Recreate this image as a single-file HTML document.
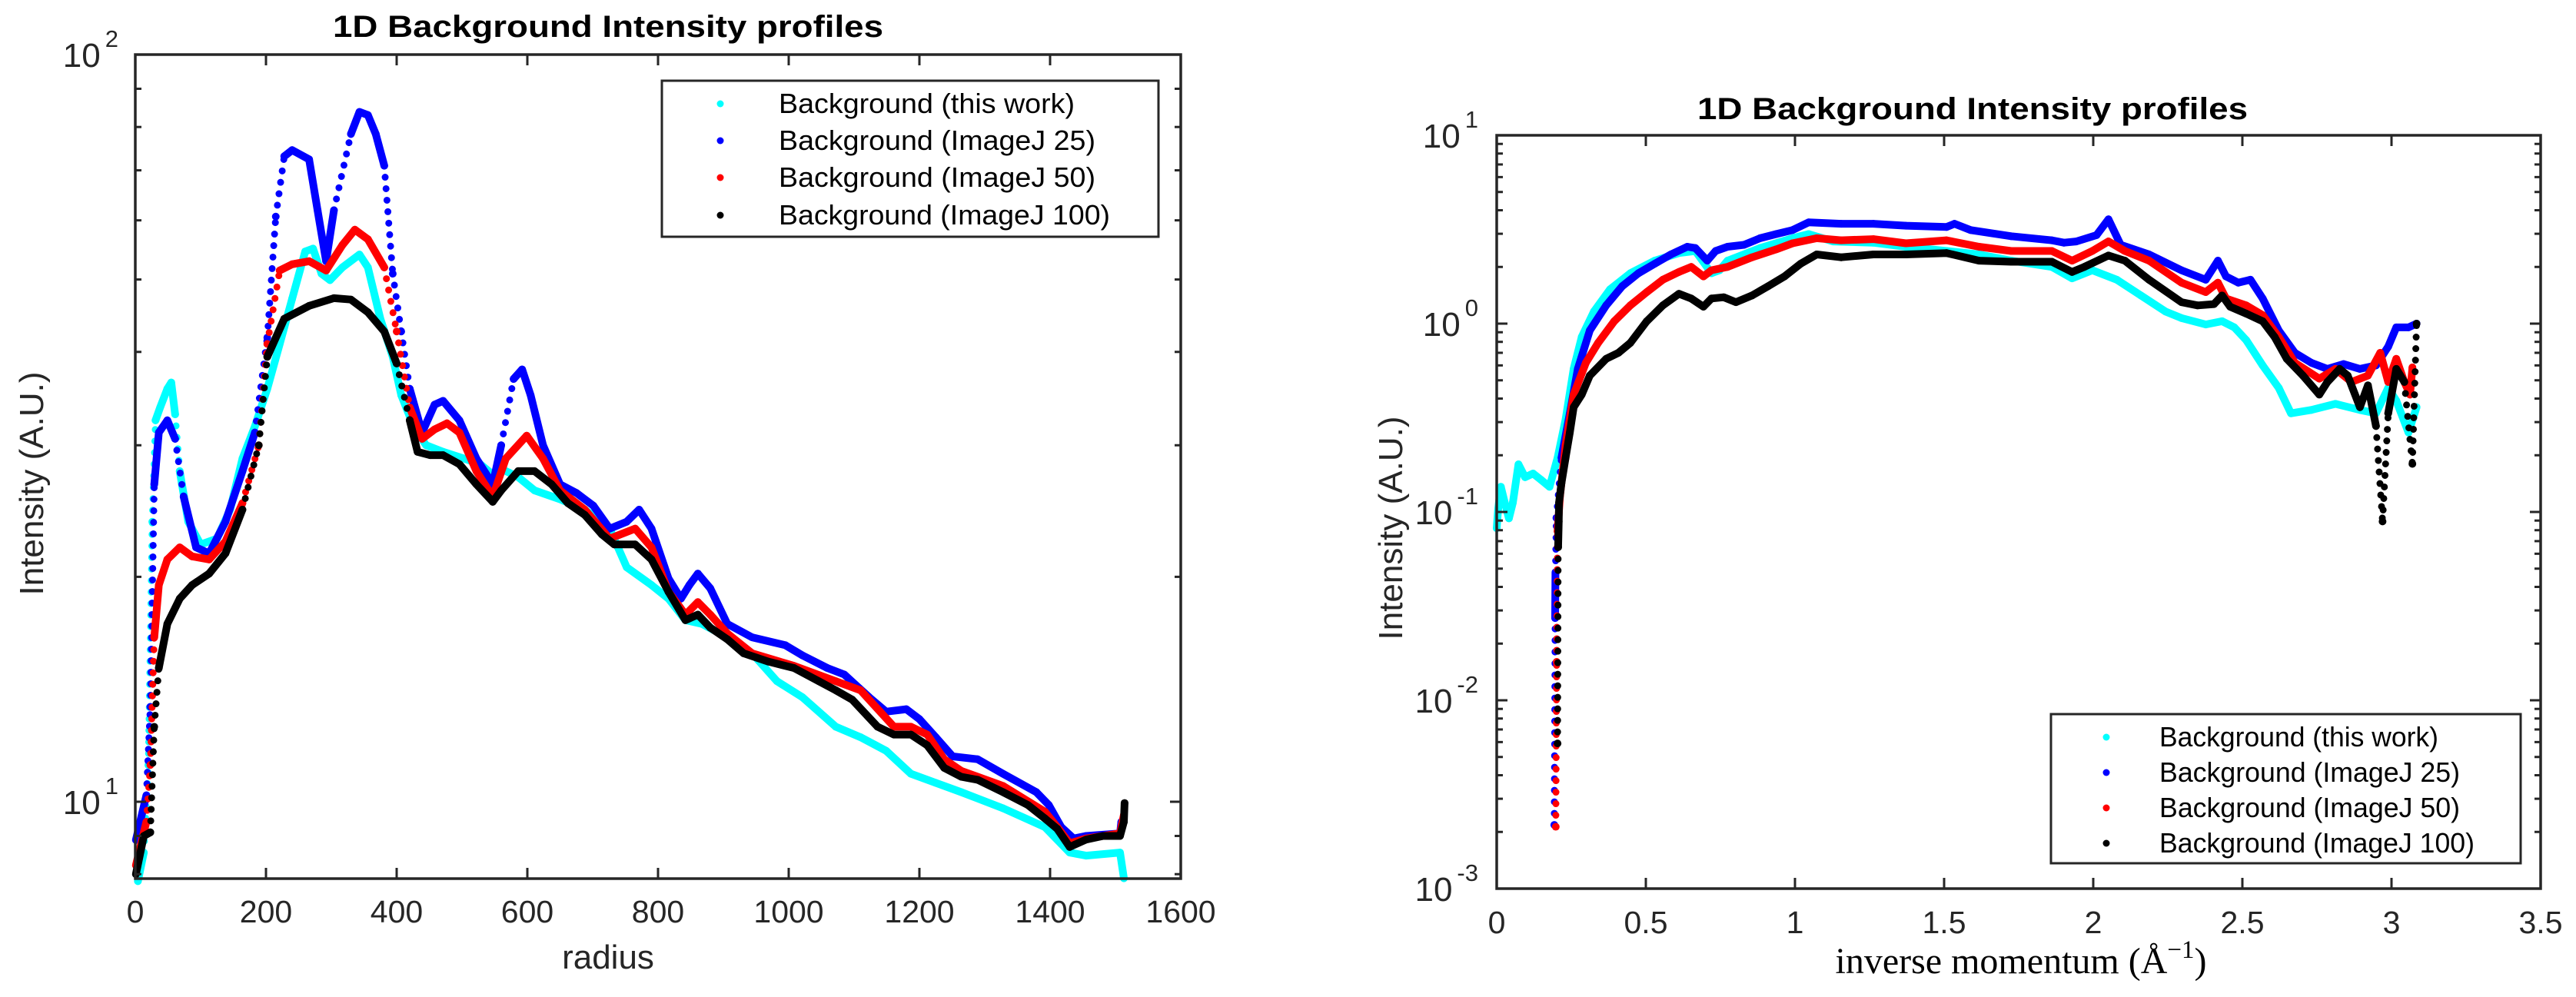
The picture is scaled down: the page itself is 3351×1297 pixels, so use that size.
<!DOCTYPE html>
<html><head><meta charset="utf-8"><title>1D Background Intensity profiles</title>
<style>
html,body{margin:0;padding:0;background:#fff;}
svg{display:block;font-family:"Liberation Sans Narrow","Liberation Sans",sans-serif;}
</style></head>
<body>
<svg id="fig" width="3351" height="1297" viewBox="0 0 3351 1297" xmlns="http://www.w3.org/2000/svg"></svg>
<script>
// ---------- Left chart data (radius, intensity) ----------
const L_cyan_x = [4,13,20,26,31,38,49,55,61,68,81,100,125,145,164,183,202,221,240,260,272,285,298,317,343,356,375,394,407,426,445,471,503,528,547,560,586,611,650,688,726,752,790,816,842,867,906,944,982,1021,1072,1110,1149,1187,1225,1264,1328,1392,1430,1455,1507,1513];
const L_cyan_y = [7.83,8.55,11.2,23.7,32.4,33.7,35.7,36.4,33.0,27.7,23.7,22.1,22.5,24.6,28.8,31.8,35.7,41.0,47.1,54.5,55.0,50.9,49.9,51.9,54.0,51.9,44.3,39.4,35.0,31.8,30.0,29.4,28.8,28.3,27.4,27.9,27.2,26.1,25.4,24.6,23.2,20.6,19.5,18.7,17.5,17.3,16.6,15.8,14.5,13.8,12.6,12.2,11.7,10.9,10.6,10.3,9.8,9.25,8.55,8.47,8.55,7.9];
const L_blue_x = [1,17,23,29,36,49,61,74,93,113,138,164,183,202,215,228,240,266,279,292,304,330,343,356,368,381,394,407,420,439,458,471,496,522,547,560,579,592,605,624,650,675,701,726,752,771,790,816,835,848,861,880,906,944,995,1021,1059,1085,1123,1149,1180,1200,1225,1251,1289,1328,1379,1398,1417,1436,1455,1507,1509];
const L_blue_y = [8.89,10.2,13.4,26.6,31.2,32.4,30.6,25.6,21.9,21.5,23.7,27.7,31.2,41.8,60.7,73.1,74.5,72.4,61.9,52.9,61.9,78.3,83.8,83.0,78.3,71.0,50.9,42.6,35.7,31.2,34.0,34.4,32.4,28.8,26.6,30.0,36.8,37.9,35.0,30.0,26.6,25.9,24.9,23.2,23.7,24.6,23.2,19.9,18.7,19.5,20.2,19.3,17.3,16.6,16.2,15.7,15.1,14.8,13.8,13.2,13.3,12.9,12.2,11.5,11.4,10.9,10.3,9.9,9.25,8.93,9.0,9.07,9.4];
const L_red_x = [1,17,23,29,36,49,68,87,113,138,164,189,202,221,240,266,292,317,336,356,381,400,420,439,458,477,496,522,547,567,599,624,650,688,726,765,790,816,842,861,880,906,944,1008,1072,1110,1161,1187,1212,1238,1264,1328,1392,1411,1430,1455,1507,1513];
const L_red_y = [8.22,9.4,11.2,16.6,19.5,21.1,21.9,21.3,21.1,22.3,25.1,30.0,41.0,51.4,52.4,52.9,51.4,55.6,58.3,56.6,51.9,42.6,33.7,30.6,31.5,32.1,31.2,27.7,25.6,28.8,30.9,28.8,26.1,24.6,22.5,23.2,21.9,19.1,17.8,18.5,17.8,16.8,15.8,15.2,14.5,14.1,12.6,12.6,12.3,11.4,11.0,10.5,9.7,9.25,8.8,8.93,9.07,9.6];
const L_black_x = [1,13,23,29,36,49,68,87,113,138,164,189,202,228,266,304,330,356,381,400,420,432,451,471,496,522,547,560,586,611,637,662,688,714,733,765,790,816,842,861,880,906,931,969,1008,1046,1072,1097,1136,1161,1187,1212,1238,1264,1289,1328,1366,1392,1411,1430,1455,1481,1507,1513,1514];
const L_black_y = [8.0,9.0,9.1,12.6,15.1,17.3,18.7,19.5,20.2,21.5,24.6,30.0,39.4,44.3,46.1,47.2,47.0,45.2,42.6,38.6,32.4,29.4,29.1,29.1,28.3,26.6,25.2,26.1,27.7,27.7,26.6,25.1,24.2,22.8,22.1,22.1,21.1,19.1,17.5,17.8,17.1,16.5,15.8,15.4,15.1,14.5,14.1,13.7,12.6,12.3,12.3,11.9,11.1,10.8,10.7,10.3,9.9,9.5,9.2,8.7,8.9,9.0,9.0,9.4,9.96];
const L_xticks = [0,200,400,600,800,1000,1200,1400,1600];
const L_xtickLabels = ["0","200","400","600","800","1000","1200","1400","1600"];
const L_ydecades = [1,2];

// ---------- Right chart data (inverse momentum, intensity) ----------
const R_cyan_x = [0,0.005,0.014,0.027,0.041,0.054,0.073,0.095,0.122,0.149,0.177,0.204,0.231,0.258,0.285,0.326,0.38,0.448,0.53,0.611,0.666,0.72,0.747,0.774,0.883,0.992,1.046,1.128,1.263,1.372,1.508,1.617,1.725,1.861,1.929,1.997,2.079,2.16,2.242,2.296,2.377,2.432,2.473,2.513,2.568,2.622,2.663,2.731,2.812,2.894,2.948,2.989,3.016,3.057,3.084];
const R_cyan_y = [0.082,0.104,0.136,0.112,0.0925,0.112,0.179,0.153,0.16,0.148,0.136,0.194,0.31,0.575,0.85,1.16,1.52,1.85,2.16,2.37,2.43,1.85,1.92,2.16,2.52,2.84,2.99,2.73,2.69,2.56,2.43,2.33,2.16,2.0,1.74,1.92,1.71,1.41,1.16,1.07,0.99,1.03,0.955,0.817,0.60,0.456,0.334,0.348,0.375,0.348,0.334,0.456,0.39,0.264,0.36];
const R_blue_x = [0.193,0.196,0.197,0.2,0.217,0.245,0.272,0.312,0.367,0.421,0.475,0.53,0.584,0.639,0.666,0.706,0.734,0.774,0.829,0.883,0.937,0.992,1.046,1.155,1.263,1.372,1.508,1.535,1.589,1.725,1.861,1.902,1.943,2.011,2.051,2.092,2.187,2.296,2.377,2.418,2.445,2.486,2.527,2.568,2.622,2.676,2.731,2.785,2.839,2.894,2.948,2.989,3.016,3.057,3.084];
const R_blue_y = [0.00218,0.0273,0.0478,0.093,0.194,0.334,0.575,0.92,1.25,1.58,1.85,2.08,2.33,2.56,2.52,2.16,2.43,2.56,2.62,2.84,2.99,3.14,3.45,3.39,3.39,3.31,3.26,3.39,3.14,2.91,2.77,2.69,2.73,2.95,3.58,2.62,2.33,1.92,1.71,2.16,1.78,1.65,1.71,1.36,0.92,0.70,0.62,0.575,0.61,0.575,0.60,0.755,0.955,0.955,1.0];
const R_red_x = [0.198,0.201,0.204,0.212,0.231,0.258,0.299,0.34,0.394,0.448,0.503,0.557,0.611,0.652,0.693,0.72,0.774,0.856,0.937,0.992,1.073,1.155,1.263,1.372,1.508,1.617,1.725,1.861,1.929,1.997,2.051,2.106,2.187,2.296,2.377,2.418,2.445,2.513,2.568,2.622,2.676,2.758,2.812,2.866,2.921,2.962,2.989,3.016,3.043,3.062,3.07];
const R_red_y = [0.00213,0.016,0.079,0.121,0.226,0.42,0.62,0.79,1.03,1.25,1.47,1.71,1.88,2.0,1.78,1.92,2.0,2.25,2.48,2.67,2.84,2.77,2.81,2.67,2.77,2.56,2.43,2.43,2.16,2.43,2.73,2.43,2.16,1.65,1.47,1.65,1.36,1.25,1.11,0.85,0.62,0.51,0.575,0.49,0.53,0.70,0.49,0.65,0.49,0.42,0.585];
const R_black_x = [0.204,0.206,0.208,0.209,0.217,0.231,0.245,0.258,0.285,0.312,0.367,0.408,0.448,0.503,0.557,0.611,0.652,0.693,0.72,0.761,0.802,0.856,0.91,0.965,1.019,1.073,1.155,1.263,1.372,1.508,1.617,1.725,1.861,1.929,1.97,2.051,2.106,2.187,2.296,2.35,2.405,2.432,2.459,2.513,2.568,2.608,2.649,2.703,2.758,2.785,2.826,2.853,2.894,2.921,2.948,2.97,2.989,3.016,3.043,3.07,3.084];
const R_black_y = [0.0059,0.065,0.089,0.112,0.142,0.194,0.264,0.36,0.42,0.53,0.65,0.70,0.79,1.03,1.25,1.44,1.36,1.23,1.36,1.38,1.30,1.41,1.58,1.78,2.08,2.33,2.25,2.33,2.33,2.37,2.16,2.13,2.13,1.88,2.0,2.30,2.16,1.71,1.30,1.25,1.27,1.41,1.23,1.13,1.03,0.85,0.65,0.53,0.42,0.49,0.575,0.53,0.36,0.47,0.286,0.089,0.334,0.575,0.49,0.18,1.0];
const R_xticks = [0,0.5,1,1.5,2,2.5,3,3.5];
const R_xtickLabels = ["0","0.5","1","1.5","2","2.5","3","3.5"];
const R_ydecades = [-3,-2,-1,0,1];

const legendLabels = ["Background (this work)","Background (ImageJ 25)","Background (ImageJ 50)","Background (ImageJ 100)"];
const seriesColors = ["#00ffff","#0000ff","#ff0000","#000000"];

const NS = "http://www.w3.org/2000/svg";
const svg = document.getElementById('fig');
function mk(tag, attrs, parent){ const e=document.createElementNS(NS,tag); for(const k in attrs) e.setAttribute(k,attrs[k]); (parent||svg).appendChild(e); return e; }

function drawChart(cfg){
  const g = mk('g',{});
  
  
  const {x0,x1,y0,y1,xmin,xmax,lmin,lmax} = cfg;
  const sx = v => x0 + (v-xmin)/(xmax-xmin)*(x1-x0);
  const sy = v => y1 - (Math.log10(v)-lmin)/(lmax-lmin)*(y1-y0);
  cfg.series.forEach((s,i)=>{
    const sg = mk('g',{},g);
    
    
    let run = [];
    const flush = () => {
      if(run.length>1){
        const pl = mk('polyline',{points:run.map(p=>p[0].toFixed(1)+','+p[1].toFixed(1)).join(' '),fill:'none',stroke:seriesColors[i],'stroke-width':10,'stroke-linejoin':'round','stroke-linecap':'round'},sg);
        
        
      }
      run = [];
    };
    const P = s.x.map((xv,j)=>[sx(xv), sy(Math.max(s.y[j],1e-9))]);
    P.forEach((p,j)=>{
      if(j>0){
        const q = P[j-1];
        const dx = Math.abs(p[0]-q[0]), dy = Math.abs(p[1]-q[1]);
        if(dy>70 && dy>3*dx){
          flush();
          const seg = mk('line',{x1:q[0],y1:q[1],x2:p[0],y2:p[1],stroke:seriesColors[i],'stroke-width':9,'stroke-linecap':'round','stroke-dasharray':'0 15'},sg);
          
          
        }
      }
      run.push(p);
    });
    flush();
    P.forEach(p=>{
      const c = mk('circle',{cx:p[0],cy:p[1],r:5,fill:seriesColors[i]},sg);
      
      
    });
  });
  const box = mk('rect',{x:x0,y:y0,width:x1-x0,height:y1-y0,fill:'none',stroke:'#262626','stroke-width':3.5},g);
  
  
  cfg.xticks.forEach((t,i)=>{
    const X = sx(t);
    mk('line',{x1:X,y1:y1,x2:X,y2:y1-14,stroke:'#262626','stroke-width':3},g);
    mk('line',{x1:X,y1:y0,x2:X,y2:y0+14,stroke:'#262626','stroke-width':3},g);
    const tx = mk('text',{x:X,y:cfg.xlabY,'font-size':41,'text-anchor':'middle',fill:'#262626'},g);
    tx.textContent = cfg.xtickLabels[i];
    
    
  });
  for(let d=Math.floor(lmin); d<lmax; d++){
    for(let m=2;m<=9;m++){
      const v = m*Math.pow(10,d); const lv=Math.log10(v);
      if(lv<lmin||lv>lmax) continue;
      const Y = sy(v);
      mk('line',{x1:x0,y1:Y,x2:x0+8,y2:Y,stroke:'#262626','stroke-width':3},g);
      mk('line',{x1:x1,y1:Y,x2:x1-8,y2:Y,stroke:'#262626','stroke-width':3},g);
    }
  }
  cfg.ydecades.forEach(d=>{
    const Y = sy(Math.pow(10,d));
    mk('line',{x1:x0,y1:Y,x2:x0+14,y2:Y,stroke:'#262626','stroke-width':3},g);
    mk('line',{x1:x1,y1:Y,x2:x1-14,y2:Y,stroke:'#262626','stroke-width':3},g);
    const tx = mk('text',{x:x0-cfg.ylabOff,y:Y+16,'font-size':44,'text-anchor':'end',fill:'#262626'},g);
    
    
    const a = mk('tspan',{},tx); a.textContent='10';
    const b = mk('tspan',{dy:-26,'font-size':31,dx:6},tx); b.textContent=String(d);
  });
  const lg = mk('g',{},g);
  
  
  mk('rect',{x:cfg.leg.x,y:cfg.leg.y,width:cfg.leg.w,height:cfg.leg.h,fill:'#fff',stroke:'#262626','stroke-width':3},lg);
  legendLabels.forEach((lab,i)=>{
    const by = cfg.leg.base[i];
    const c = mk('circle',{cx:cfg.leg.mx,cy:by-12,r:4.5,fill:seriesColors[i]},lg);
    
    
    const t = mk('text',{x:cfg.leg.tx,y:by,'font-size':36,fill:'#000',textLength:cfg.leg.tw[i],lengthAdjust:'spacingAndGlyphs'},lg);
    t.textContent = lab;
    
    
  });
  const ti = mk('text',{x:cfg.title.x,y:cfg.title.y,'font-size':40,'font-weight':'bold','text-anchor':'middle',fill:'#000',textLength:716,lengthAdjust:'spacingAndGlyphs','font-family':'"Liberation Sans",sans-serif'},g);
  ti.textContent='1D Background Intensity profiles';
  
  
  return {g,sx,sy};
}

drawChart({
  name:'left-chart', x0:176,x1:1536,y0:71,y1:1143,xmin:0,xmax:1600,lmin:1-100/972,lmax:2,
  xticks:L_xticks, xtickLabels:L_xtickLabels, ydecades:L_ydecades, xlabY:1200, ylabOff:22,
  series:[{key:'this-work',x:L_cyan_x,y:L_cyan_y},{key:'imagej-25',x:L_blue_x,y:L_blue_y},{key:'imagej-50',x:L_red_x,y:L_red_y},{key:'imagej-100',x:L_black_x,y:L_black_y}],
  leg:{x:861,y:105,w:646,h:203,mx:937,tx:1013,base:[147,195,243,292],tw:[385,412,412,431]},
  title:{x:791,y:48}
});
drawChart({
  name:'right-chart', x0:1947,x1:3305,y0:176,y1:1156,xmin:0,xmax:3.5,lmin:-3,lmax:1,
  xticks:R_xticks, xtickLabels:R_xtickLabels, ydecades:R_ydecades, xlabY:1214, ylabOff:24,
  series:[{key:'this-work',x:R_cyan_x,y:R_cyan_y},{key:'imagej-25',x:R_blue_x,y:R_blue_y},{key:'imagej-50',x:R_red_x,y:R_red_y},{key:'imagej-100',x:R_black_x,y:R_black_y}],
  leg:{x:2668,y:929,w:611,h:194,mx:2740,tx:2809,base:[971,1017,1063,1109],tw:[363,391,391,410]},
  title:{x:2566,y:155}
});

let t;
t = mk('text',{x:791,y:1260,'font-size':44,'text-anchor':'middle',fill:'#262626'});
t.textContent='radius';


t = mk('text',{x:0,y:0,'font-size':44,'text-anchor':'middle',fill:'#262626',transform:'translate(56,629) rotate(-90)'});
t.textContent='Intensity (A.U.)';


t = mk('text',{x:0,y:0,'font-size':44,'text-anchor':'middle',fill:'#262626',transform:'translate(1824,687) rotate(-90)'});
t.textContent='Intensity (A.U.)';


t = mk('text',{x:2629,y:1266,'font-size':48,'text-anchor':'middle',fill:'#000','font-family':'"Liberation Serif",serif'});


const t1 = mk('tspan',{},t); t1.textContent='inverse momentum (Å';
const t2 = mk('tspan',{dy:-20,'font-size':33},t); t2.textContent='−1';
const t3 = mk('tspan',{dy:20},t); t3.textContent=')';
</script>
</body></html>
